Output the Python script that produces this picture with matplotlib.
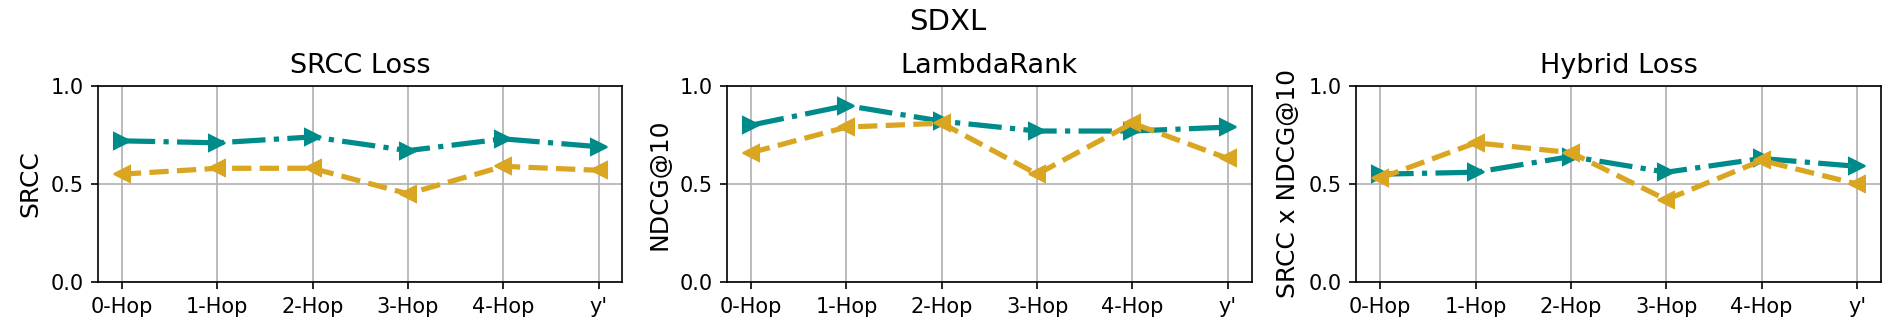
import matplotlib
matplotlib.use("Agg")
import matplotlib.pyplot as plt
import numpy as np

# x categories
hops = ["0-Hop", "1-Hop", "2-Hop", "3-Hop", "4-Hop", "y'"]

# panel titles and y labels
titles = ["SRCC Loss", "LambdaRank", "Hybrid Loss"]
ylabels = ["SRCC", "NDCG@10", "SRCC x NDCG@10"]

# teal series (dash-dot, right triangles)
srcc_teal = [0.72, 0.71, 0.74, 0.67, 0.73, 0.69]
lambda_teal = [0.80, 0.90, 0.82, 0.77, 0.77, 0.79]
hybrid_teal = [0.55, 0.56, 0.64, 0.56, 0.63, 0.59]

# gold series (dashed, left triangles)
srcc_gold = [0.55, 0.58, 0.58, 0.45, 0.59, 0.57]
lambda_gold = [0.66, 0.79, 0.81, 0.55, 0.81, 0.63]
hybrid_gold = [0.53, 0.71, 0.66, 0.42, 0.62, 0.50]

teal_sets = [srcc_teal, lambda_teal, hybrid_teal]
gold_sets = [srcc_gold, lambda_gold, hybrid_gold]

fig, axes = plt.subplots(1, 3, figsize=(12.64, 2.22), dpi=150)
fig.subplots_adjust(left=0.0517, right=0.992, bottom=0.153, top=0.742, wspace=0.2)

x = np.arange(len(hops))
for ax, title, ylab, teal, gold in zip(axes, titles, ylabels, teal_sets, gold_sets):
    ax.plot(x, teal, color="#008b8b", linestyle="-.", marker=">",
            linewidth=2.5, markersize=8)
    ax.plot(x, gold, color="#daa520", linestyle="--", marker="<",
            linewidth=2.5, markersize=8)
    ax.set_ylim(0, 1)
    ax.set_yticks([0.0, 0.5, 1.0])
    ax.set_xticks(x)
    ax.set_xticklabels(hops)
    ax.tick_params(labelsize=10)
    ax.grid(True)
    ax.set_title(title, fontsize=13)
    ax.set_ylabel(ylab, fontsize=12)

fig.suptitle("SDXL", fontsize=14, y=0.975)

plt.savefig("out.png")
